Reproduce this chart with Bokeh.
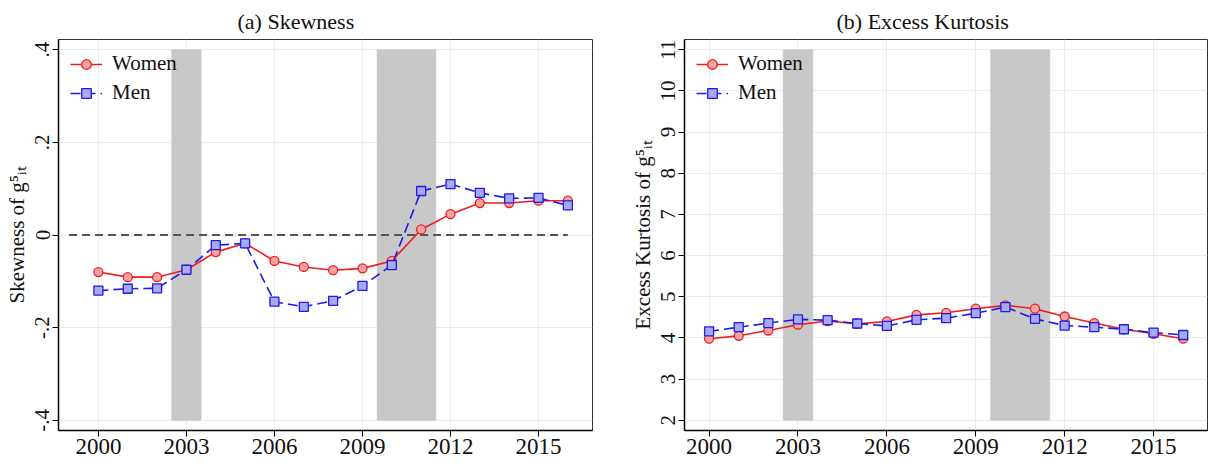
from bokeh.plotting import figure
from bokeh.layouts import row
from bokeh.models import FixedTicker, Range1d, Legend, LegendItem
from bokeh.embed import file_html
from bokeh.resources import INLINE

# ---------------- data ----------------
years = list(range(2000, 2017))
skew_women = [-0.080, -0.091, -0.091, -0.075, -0.037, -0.018, -0.056, -0.069, -0.076,
              -0.072, -0.056, 0.012, 0.045, 0.069, 0.069, 0.074, 0.074]
skew_men = [-0.120, -0.116, -0.115, -0.075, -0.022, -0.018, -0.144, -0.155, -0.142,
            -0.110, -0.065, 0.095, 0.110, 0.091, 0.079, 0.080, 0.064]
kurt_women = [3.98, 4.05, 4.18, 4.32, 4.41, 4.34, 4.40, 4.56, 4.61, 4.71, 4.79, 4.71,
              4.52, 4.36, 4.21, 4.10, 3.98]
kurt_men = [4.16, 4.26, 4.36, 4.45, 4.43, 4.35, 4.29, 4.44, 4.48, 4.60, 4.75, 4.46,
            4.30, 4.26, 4.21, 4.13, 4.07]

x_ticks = [2000, 2003, 2006, 2009, 2012, 2015]
skew_ticks = [-0.4, -0.2, 0.0, 0.2, 0.4]
skew_tick_labels = ["-.4", "-.2", "0", ".2", ".4"]
kurt_ticks = [2, 3, 4, 5, 6, 7, 8, 9, 10, 11]
kurt_tick_labels = [str(t) for t in kurt_ticks]

# recession periods (shaded)
rec_start = [2002.5, 2009.5, 2010.5]
rec_end = [2003.5, 2010.5, 2011.5]

FONT = "Liberation Serif"


def make_panel(title, ylabel, women, men, yticks, ylabels, xr, yr, width,
               mb_left, mb_right, title_offset, zero_line):
    p = figure(width=width, height=456, x_range=Range1d(*xr), y_range=Range1d(*yr),
               output_backend="svg", toolbar_location=None, min_border=0,
               min_border_left=mb_left, min_border_right=mb_right,
               min_border_top=38, min_border_bottom=0)
    p.background_fill_color = "white"
    p.border_fill_color = "white"
    p.outline_line_color = "#333333"
    p.outline_line_width = 1

    p.title.text = title
    p.title.align = "left"
    p.title.offset = title_offset
    p.title.text_font = FONT
    p.title.text_font_size = "22px"
    p.title.text_font_style = "normal"
    p.title.text_color = "#111111"
    p.title.standoff = 12

    # grid
    for g in (p.xgrid, p.ygrid):
        g.grid_line_color = "#ebebeb"
        g.grid_line_width = 1
    p.xgrid.ticker = FixedTicker(ticks=x_ticks)
    p.ygrid.ticker = FixedTicker(ticks=yticks)

    # axes
    p.xaxis.ticker = FixedTicker(ticks=x_ticks)
    p.yaxis.ticker = FixedTicker(ticks=yticks)
    p.yaxis.major_label_overrides = {t: l for t, l in zip(yticks, ylabels)}
    p.yaxis.major_label_orientation = "vertical"
    for ax in (p.xaxis, p.yaxis):
        ax.axis_line_color = "black"
        ax.axis_line_width = 1.5
        ax.major_tick_line_color = "black"
        ax.major_tick_line_width = 1
        ax.major_tick_out = 6
        ax.major_tick_in = 0
        ax.minor_tick_out = 0
        ax.minor_tick_in = 0
        ax.major_label_text_font = FONT
        ax.major_label_text_color = "#111111"
        ax.major_label_standoff = 3
    p.xaxis.major_label_standoff = 2
    p.xaxis.major_label_text_font_size = "23px"
    p.yaxis.major_label_text_font_size = "21px"
    p.yaxis.axis_label = ylabel
    p.yaxis.axis_label_text_font = FONT
    p.yaxis.axis_label_text_font_size = "21px"
    p.yaxis.axis_label_text_font_style = "normal"
    p.yaxis.axis_label_text_color = "#111111"
    p.yaxis.axis_label_standoff = 4

    # recession bands
    p.quad(left=rec_start, right=rec_end, bottom=yticks[0], top=yticks[-1],
           fill_color="#c8c8c8", line_color="#c4c4c4", line_width=0.6)

    if zero_line:
        p.segment(x0=[years[0] - 1], x1=[years[-1]], y0=[0], y1=[0],
                  line_color="#555555", line_width=2, line_dash="8 5")

    lw = p.line(years, women, line_color="#ee1c1c", line_width=1.6)
    sw = p.scatter(years, women, marker="circle", size=9, fill_color="#f7a3a3",
                   line_color="#ee1c1c", line_width=1.3)
    lm = p.line(years, men, line_color="#1c1ce6", line_width=1.6, line_dash="10 5")
    sm = p.scatter(years, men, marker="square", size=9, fill_color="#a9a9f2",
                   line_color="#1c1ce6", line_width=1.3)

    legend = Legend(items=[LegendItem(label="Women", renderers=[lw, sw]),
                           LegendItem(label="Men", renderers=[lm, sm])],
                    location="top_left")
    legend.border_line_alpha = 0
    legend.background_fill_alpha = 0
    legend.label_text_font = FONT
    legend.label_text_font_size = "21px"
    legend.label_text_color = "#111111"
    legend.glyph_width = 32
    legend.glyph_height = 24
    legend.label_height = 24
    legend.spacing = 4
    legend.padding = 0
    legend.margin = 12
    legend.label_standoff = 10
    p.add_layout(legend)
    return p


p1 = make_panel("(a) Skewness", "Skewness of g\u2075\u1d62\u209c",
                skew_women, skew_men, skew_ticks, skew_tick_labels,
                (1998.64, 2016.84), (-0.422, 0.422), 612, 58, 20, 179, True)
p2 = make_panel("(b) Excess Kurtosis", "Excess Kurtosis of g\u2075\u1d62\u209c",
                kurt_women, kurt_men, kurt_ticks, kurt_tick_labels,
                (1999.17, 2016.82), (1.75, 11.25), 597, 72, 2, 152, False)

layout = row(p1, p2)
open("out.html", "w").write(file_html(layout, INLINE))
